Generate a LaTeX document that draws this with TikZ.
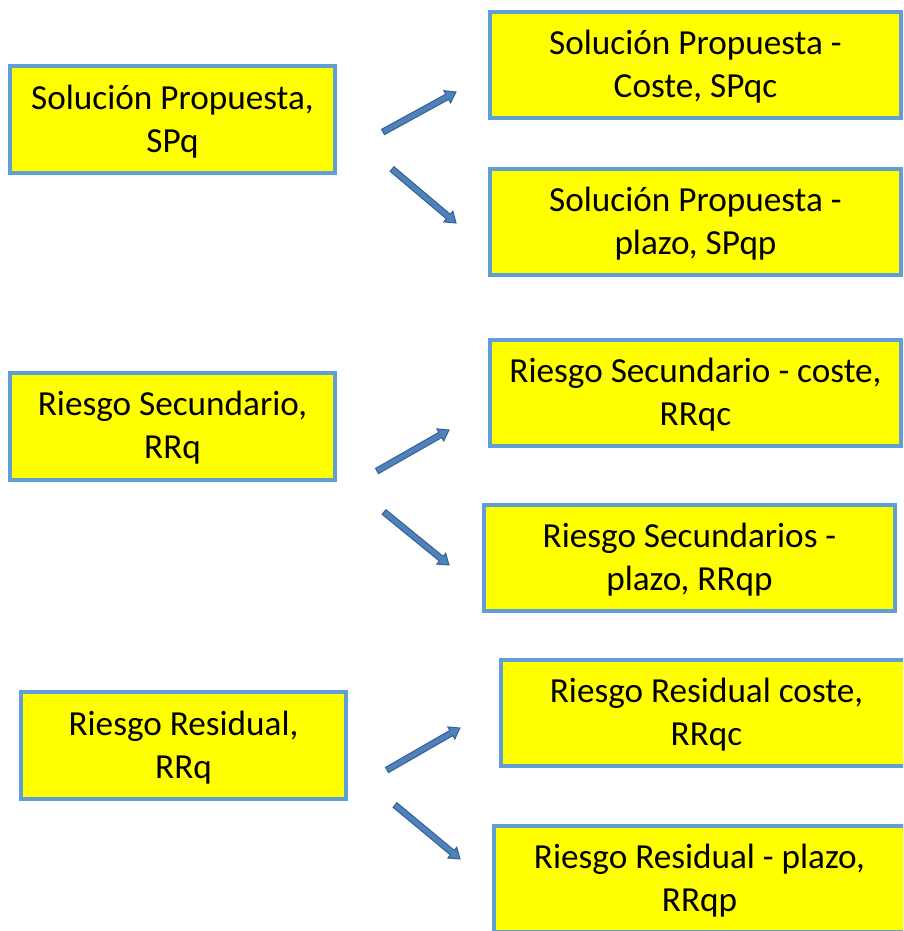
\documentclass[tikz,border=0pt]{standalone}
\usepackage{fontspec}
\setmainfont{Carlito}
\usetikzlibrary{calc}

\definecolor{boxfill}{RGB}{255,255,0}
\definecolor{boxedge}{RGB}{96,158,214}
\definecolor{arrowfill}{RGB}{79,129,189}
\definecolor{arrowedge}{RGB}{56,96,146}

\tikzset{
  box/.style={draw=boxedge, fill=boxfill, line width=4pt, rectangle,
    inner sep=0pt, font=\fontsize{35.2}{43}\selectfont},
  leftbox/.style={box, minimum width=325pt, minimum height=107pt},
  rightbox/.style={box, minimum width=411pt, minimum height=106pt},
  blockarrow/.style={draw=arrowedge, fill=arrowfill, line width=1pt, line join=miter},
}

% two centred lines with fixed line metrics, so the text sits evenly in its box
\newcommand\twolines[2]{%
  \begin{tabular}{@{}c@{}}\rule{0pt}{35.5pt}#1\\#2\end{tabular}}

% block arrow from tail coordinate #1 to tip coordinate #2
\newcommand\blockarrow[2]{%
  \path[blockarrow] let \p1=($(#2)-(#1)$), \n1={atan2(\y1,\x1)},
    \n2={veclen(\x1,\y1)} in
    [shift={(#1)}, rotate=\n1]
    (0pt,-3pt) -- ({\n2*1pt-10pt},-3pt) -- ({\n2*1pt-10pt},-7pt) -- ({\n2*1pt},0pt)
    -- ({\n2*1pt-10pt},7pt) -- ({\n2*1pt-10pt},3pt) -- (0pt,3pt) -- cycle;
}

\begin{document}
\begin{tikzpicture}[x=1pt, y=-1pt]
  \useasboundingbox (0,0) rectangle (903,931);
  \clip (0,0) rectangle (903,931);

  % source boxes
  \node[leftbox] (sp) at (172.5,119.5) {\twolines{Solución Propuesta,}{SPq}};
  \node[leftbox] (rs) at (172.5,426) {\twolines{Riesgo Secundario,}{RRq}};
  \node[leftbox] (rr) at (183.5,745.5) {\twolines{Riesgo Residual,}{RRq}};

  % derived boxes
  \node[rightbox] (spc) at (695.5,65) {\twolines{Solución Propuesta -}{Coste, SPqc}};
  \node[rightbox] (spp) at (695.5,222) {\twolines{Solución Propuesta -}{plazo, SPqp}};
  \node[rightbox] (rsc) at (695.5,392.5) {\twolines{Riesgo Secundario - coste,}{RRqc}};
  \node[rightbox] (rsp) at (689.5,558) {\twolines{Riesgo Secundarios -}{plazo, RRqp}};
  \node[rightbox] (rrc) at (706.5,713) {\twolines{Riesgo Residual coste,}{RRqc}};
  \node[rightbox] (rrp) at (699.5,879) {\twolines{Riesgo Residual - plazo,}{RRqp}};

  % arrow end points
  \coordinate (a1s) at (383,132);  \coordinate (a1e) at (456,92);
  \coordinate (a2s) at (392,169);  \coordinate (a2e) at (456,223);
  \coordinate (a3s) at (377,471);  \coordinate (a3e) at (449,430);
  \coordinate (a4s) at (384,512);  \coordinate (a4e) at (449,565);
  \coordinate (a5s) at (387,770);  \coordinate (a5e) at (460,728);
  \coordinate (a6s) at (395,805);  \coordinate (a6e) at (460,859);

  \blockarrow{a1s}{a1e}
  \blockarrow{a2s}{a2e}
  \blockarrow{a3s}{a3e}
  \blockarrow{a4s}{a4e}
  \blockarrow{a5s}{a5e}
  \blockarrow{a6s}{a6e}
\end{tikzpicture}
\end{document}
